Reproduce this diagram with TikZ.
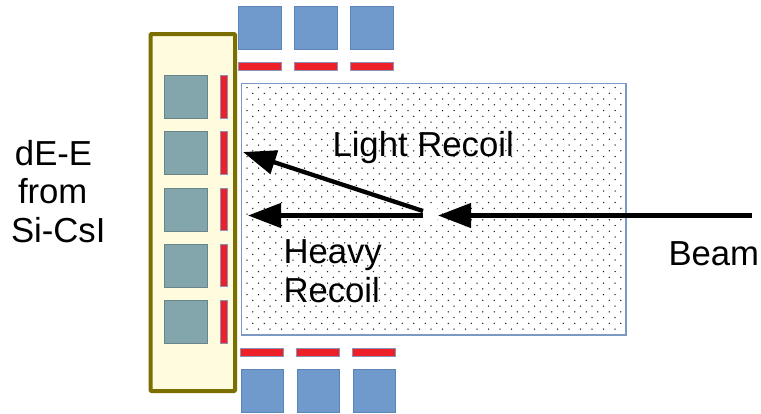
\documentclass[tikz,border=0pt]{standalone}
\usepackage{fontspec}
\setmainfont{Liberation Sans}
\usetikzlibrary{arrows.meta}
\definecolor{framecol}{HTML}{7A6F00}
\definecolor{panelcol}{HTML}{FFFBDF}
\definecolor{tealcol}{HTML}{83A6AD}
\definecolor{bluecol}{HTML}{7099CC}
\definecolor{blueedge}{HTML}{5B85B8}
\definecolor{redcol}{HTML}{EE2027}
\definecolor{rededge}{HTML}{8A92B8}
\definecolor{boxedge}{HTML}{7C99C4}
\tikzset{
  x=1pt,y=-1pt,
  panel/.style={draw=framecol,line width=4pt,fill=panelcol,rounded corners=1pt},
  teal/.style={fill=tealcol,draw=tealcol!80!black,line width=.5pt},
  blue/.style={fill=bluecol,draw=blueedge,line width=.6pt},
  redbar/.style={fill=redcol,draw=rededge,line width=1pt},
  target/.style={draw=boxedge,line width=1.2pt},
  ray/.style={draw=black,line width=4.3pt,-{Triangle[length=33pt,width=24pt]}},
  lbl/.style={font=\fontsize{34.7}{38.6}\selectfont,inner sep=0pt,outer sep=0pt,text=black}
}
\begin{document}
\begin{tikzpicture}
\useasboundingbox (0,0) rectangle (761,413);
\fill[white] (0,0) rectangle (761,413);
% target box
\fill[white] (241.5,83.5) rectangle (626,335);
\begin{scope}
\clip (242,84) rectangle (625.5,334.5);
\foreach \r in {0,...,43}{
  \pgfmathsetmacro{\yy}{87.5+5.75*\r}
  \pgfmathsetmacro{\off}{mod(\r,2)*5.75}
  \foreach \c in {0,...,33}{
    \fill[black!90] ({247+\off+11.5*\c},\yy) circle (.75);
  }
}
\end{scope}
\draw[target] (241.5,83.5) rectangle (626,335);
% side panel
\draw[panel] (150.5,34) rectangle (235,391);
\foreach \y in {75.5,131.7,188,244,300.2}{
  \draw[teal] (164,\y) rectangle (207,\y+42.8);
  \draw[redbar] (220.5,\y) rectangle (227.5,\y+42.8);
}
% top and bottom rows
\foreach \x in {238.5,294.5,350.5}{
  \draw[blue] (\x,6.5) rectangle (\x+43,49.5);
  \draw[redbar] (\x,62.5) rectangle (\x+43,70);
}
\foreach \x in {240.8,296.8,352.8}{
  \draw[redbar] (\x,348.5) rectangle (\x+42.5,356);
  \draw[blue] (\x,369.5) rectangle (\x+42.5,412);
}
% arrows
\coordinate (beamstart) at (752,215.5);
\coordinate (beamend) at (438,215.5);
\coordinate (vertexH) at (423,215.5);
\coordinate (heavyend) at (248,215.5);
\coordinate (vertexL) at (423,211);
\coordinate (lightend) at (243,152);
\fill[white] (424,207) rectangle (437,222);
\draw[ray] (beamstart) -- (beamend);
\draw[ray] (vertexH) -- (heavyend);
\draw[ray] (vertexL) -- (lightend);
% labels
\node[lbl,anchor=base west] (light) at (332.5,156) {Light Recoil};
\node[lbl,anchor=base west] (beam) at (668.5,265) {Beam};
\node[lbl,anchor=north west,align=left] (heavy) at (283.5,240) {Heavy\\Recoil};
\node[lbl,anchor=north west,align=left] (dee) at (11,140) {\hspace*{4pt}dE-E\\\hspace*{7pt}from\\Si-CsI};
\end{tikzpicture}
\end{document}
